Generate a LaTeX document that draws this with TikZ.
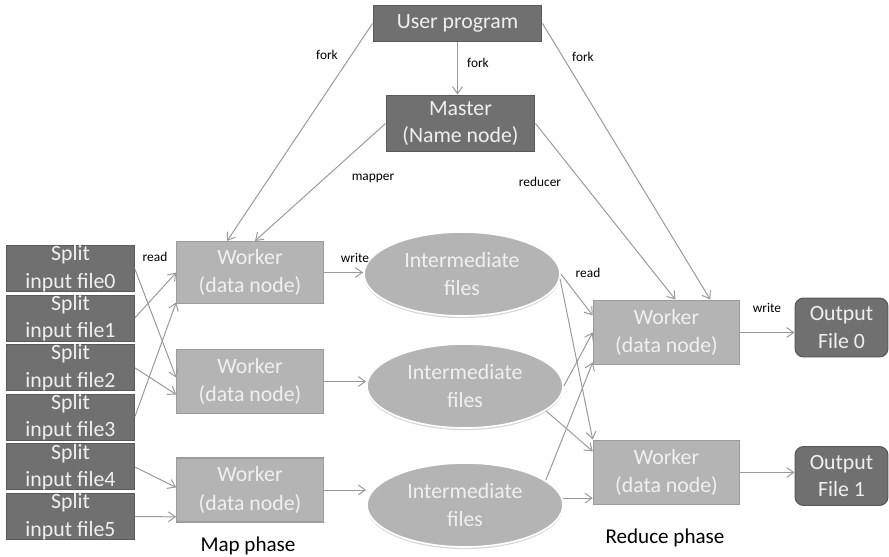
\documentclass[tikz,border=0pt]{standalone}
\usepackage{fontspec}
\setmainfont{Carlito}
\usepackage{tikz}
\usetikzlibrary{arrows.meta,positioning,shadows,shapes.geometric}
\definecolor{darkfill}{HTML}{707070}
\definecolor{darkline}{HTML}{5A5A5A}
\definecolor{lightfill}{HTML}{B4B4B4}
\definecolor{lightline}{HTML}{9C9C9C}
\definecolor{boxtext}{HTML}{F0F0F0}
\definecolor{arrowgray}{HTML}{999999}

\tikzset{
    darkbox/.style={rectangle, fill=darkfill, draw=darkline, line width=0.8pt, text=boxtext,
        align=center, inner sep=0pt, font=\fontsize{15.5}{19.5}\selectfont},
    workerbox/.style={rectangle, fill=lightfill, draw=lightline, line width=0.8pt, text=boxtext,
        align=center, inner sep=0pt, minimum width=3.66cm, font=\fontsize{15.5}{20}\selectfont},
    filesblob/.style={ellipse, fill=lightfill, draw=white, line width=1.2pt, text=boxtext,
        align=center, inner sep=0pt, minimum width=4.9cm, minimum height=2.1cm,
        font=\fontsize{15.5}{20}\selectfont,
        drop shadow={shadow xshift=0pt, shadow yshift=-1.5pt, fill=gray!45, opacity=0.7}},
    flow/.style={draw=arrowgray, line width=0.7pt, -{Straight Barb[length=5pt,width=7pt]}},
    tag/.style={font=\fontsize{9.5}{11}\selectfont, text=black, inner sep=0pt},
    phase/.style={font=\fontsize{15}{18}\selectfont, text=black, inner sep=0pt}
}

\begin{document}
\begin{tikzpicture}[x=0.025cm, y=-0.025cm]
    \useasboundingbox (0,0) rectangle (889,557);

    % Top: user program and master
    \node[darkbox, minimum width=4.22cm, minimum height=0.92cm] (user) at (457.5,23.5) {User program};
    \node[darkbox, minimum width=3.72cm, minimum height=1.42cm] (master) at (460.5,123.5) {Master\\(Name node)};

    % Input splits
    \foreach \i in {0,...,5} {
        \node[darkbox, minimum width=3.18cm, minimum height=1.15cm] (split\i) at (70.5,{268.5+49.6*\i}) {Split\\input file\i};
    }

    % Map workers
    \node[workerbox, minimum height=1.55cm] (mw1) at (250,272.5) {Worker\\(data node)};
    \node[workerbox, minimum height=1.58cm] (mw2) at (250,381.5) {Worker\\(data node)};
    \node[workerbox, minimum height=1.6cm] (mw3) at (250,490) {Worker\\(data node)};

    % Intermediate files
    \node[filesblob] (ell1) at (462,274) {Intermediate\\files};
    \node[filesblob] (ell2) at (465,386) {Intermediate\\files};
    \node[filesblob] (ell3) at (465,505) {Intermediate\\files};

    % Reduce workers
    \node[workerbox, minimum height=1.62cm] (rw1) at (666.5,332.5) {Worker\\(data node)};
    \node[workerbox, minimum height=1.62cm] (rw2) at (666.5,472.5) {Worker\\(data node)};

    % Output files
    \node[darkbox, rounded corners=6pt, minimum width=2.32cm, minimum height=1.47cm] (out0) at (841.5,327.5) {Output\\File 0};
    \node[darkbox, rounded corners=6pt, minimum width=2.32cm, minimum height=1.47cm] (out1) at (841.5,476) {Output\\File 1};

    % fork / assign
    \draw[flow] (user.west) -- (mw1.126);
    \draw[flow] (user.south) -- (user.south |- master.north);
    \draw[flow] (user.east) -- (rw1.37);
    \draw[flow] (master.west) -- (mw1.81);
    \draw[flow] (master.east) -- (rw1.75);

    % read splits
    \draw[flow] (split0.east) -- (mw2.177);
    \draw[flow] (split1.east) -- (mw1.west);
    \draw[flow] (split2.east) -- (mw2.190);
    \draw[flow] (split3.east) -- (mw1.202);
    \draw[flow] (split4.east) -- (mw3.178);
    \draw[flow] (split5.east) -- (mw3.200);

    % write intermediate
    \draw[flow] (mw1.east) -- (mw1.east -| ell1.west);
    \draw[flow] (mw2.east) -- (mw2.east -| ell2.west);
    \draw[flow] (mw3.east) -- (mw3.east -| ell3.west);

    % read intermediate
    \draw[flow] (ell1.east) -- (rw1.167);
    \draw[flow] (ell1.-3) -- (rw2.north west);
    \draw[flow] (ell2.east) -- (rw1.west);
    \draw[flow] (ell2.-17) -- (rw2.164);
    \draw[flow] (ell3.17) -- (rw1.202);
    \draw[flow] (ell3.4) -- (ell3.4 -| rw2.west);

    % write output
    \draw[flow] (rw1.east) -- (rw1.east -| out0.west);
    \draw[flow] (rw2.east) -- (rw2.east -| out1.west);

    % Labels
    \node[tag] (forkl) at (327,55) {fork};
    \node[tag] (forkm) at (478,63) {fork};
    \node[tag] (forkr) at (583,57) {fork};
    \node[tag] (mapper) at (373,178) {mapper};
    \node[tag] (reducer) at (540,182) {reducer};
    \node[tag] (readl) at (155,257) {read};
    \node[tag] (writel) at (355,258) {write};
    \node[tag] (readr) at (588,273) {read};
    \node[tag] (writer) at (767,308) {write};
    \node[phase] (mapphase) at (248,546) {Map phase};
    \node[phase] (redphase) at (665,538) {Reduce phase};
\end{tikzpicture}
\end{document}
